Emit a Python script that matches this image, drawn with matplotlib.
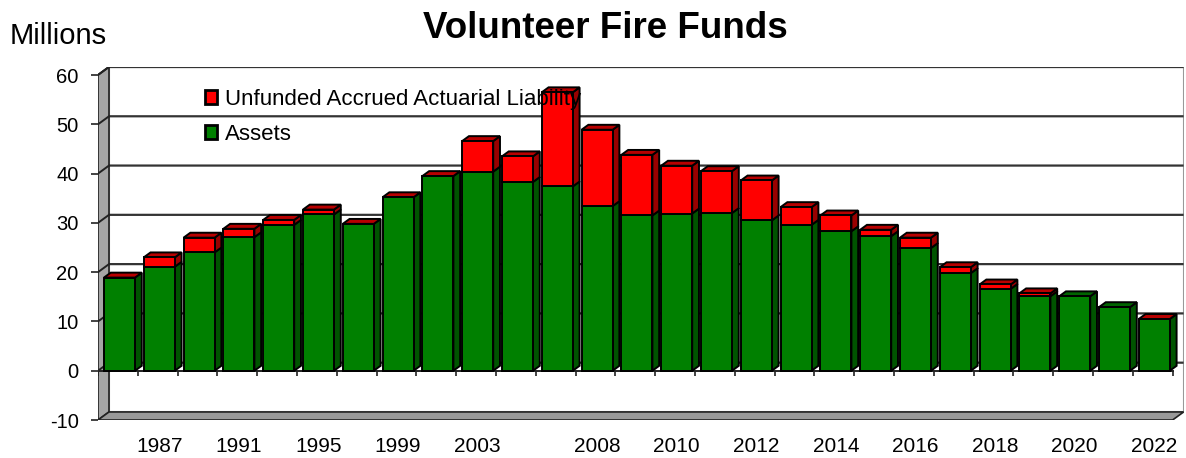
import numpy as np
import matplotlib
matplotlib.use("Agg")
import matplotlib.pyplot as plt
from matplotlib.patches import Polygon, Patch

plt.rcParams['font.family'] = ['Liberation Sans', 'DejaVu Sans']
plt.rcParams['axes.unicode_minus'] = False

# data (millions)
years = [1985, 1987, 1989, 1991, 1993, 1995, 1997, 1999, 2001, 2003, 2005, 2007,
         2008, 2009, 2010, 2011, 2012, 2013, 2014, 2015, 2016, 2017, 2018, 2019,
         2020, 2021, 2022]
assets = [18.9, 21.1, 24.0, 27.1, 29.6, 31.7, 29.8, 35.2, 39.5, 40.4, 38.3, 37.4,
          33.4, 31.5, 31.9, 32.0, 30.5, 29.6, 28.3, 27.3, 24.9, 19.8, 16.6, 15.1,
          15.1, 12.9, 10.5]
uaal = [0, 1.9, 3.0, 1.7, 1.0, 1.0, 0, 0, 0, 6.2, 5.2, 19.1,
        15.5, 12.3, 9.7, 8.5, 8.1, 3.6, 3.2, 1.3, 2.1, 1.2, 0.9, 0.6,
        np.nan, np.nan, 0]
shown_years = [1987, 1991, 1995, 1999, 2003, 2008, 2010, 2012, 2014, 2016,
               2018, 2020, 2022]
yticks = [-10, 0, 10, 20, 30, 40, 50, 60]

GREEN, GREEN_SIDE, GREEN_TOP = '#008000', '#005400', '#006400'
RED, RED_SIDE, RED_TOP = '#ff0000', '#990000', '#b80000'

n = len(years)
x = np.arange(n) + 0.04
ymin, ymax = -10, 60
dxw, dyw = 0.276, 1.63     # depth of the walls
dxb, dyb = 0.17, 1.0       # depth of the bars
bw = 0.78
elw = 1.4

fig = plt.figure(figsize=(11.86, 4.58), dpi=100)
ax = fig.add_axes([98 / 1186, 38 / 458, 1085.6 / 1186, 353 / 458])
ax.set_xlim(-0.5, n - 0.5 + dxw)
ax.set_ylim(ymin, ymax + dyw)
for s in ax.spines.values():
    s.set_visible(False)

xl, xr = -0.5, n - 0.5

# back wall
ax.add_patch(Polygon([(xl + dxw, ymin + dyw), (xr + dxw, ymin + dyw),
                      (xr + dxw, ymax + dyw), (xl + dxw, ymax + dyw)],
                     closed=True, facecolor='white', edgecolor='#999999', lw=1.5, zorder=0))
# gridlines on back and left walls
for v in yticks[1:]:
    ax.plot([xl, xl + dxw, xr + dxw], [v, v + dyw, v + dyw], color='#333333', lw=1.6, zorder=1,
            solid_capstyle='butt')
# left wall
ax.add_patch(Polygon([(xl, ymin), (xl + dxw, ymin + dyw), (xl + dxw, ymax + dyw), (xl, ymax)],
                     closed=True, facecolor='#a6a6a6', edgecolor='#222222', lw=1.2, zorder=1.5))
for v in yticks[1:]:
    ax.plot([xl, xl + dxw], [v, v + dyw], color='#222222', lw=1.4, zorder=1.6)
# floor
ax.add_patch(Polygon([(xl, ymin), (xr, ymin), (xr + dxw, ymin + dyw), (xl + dxw, ymin + dyw)],
                     closed=True, facecolor='#999999', edgecolor='#222222', lw=1.2, zorder=1.5))

# zero line and category ticks
ax.plot([xl, xr], [0, 0], color='#222222', lw=1.4, zorder=2)
ax.vlines(np.arange(n + 1) - 0.5, -1.1, 0, color='#222222', lw=1.2, zorder=2)


def box(x0, bottom, top, side, topc, with_top):
    # right side face, and the top face if this is the highest segment
    x1 = x0 + bw
    if top > bottom:
        ax.add_patch(Polygon([(x1, bottom), (x1 + dxb, bottom + dyb), (x1 + dxb, top + dyb), (x1, top)],
                             closed=True, facecolor=side, edgecolor='black', lw=elw, zorder=2.8))
    if with_top:
        ax.add_patch(Polygon([(x0, top), (x0 + dxb, top + dyb), (x1 + dxb, top + dyb), (x1, top)],
                             closed=True, facecolor=topc, edgecolor='black', lw=elw, zorder=2.8))


ax.bar(x, assets, width=bw, color=GREEN, edgecolor='black', lw=elw, zorder=3)
red_vals = np.nan_to_num(np.array(uaal, dtype=float))
ax.bar(x, red_vals, bottom=assets, width=bw, color=RED, edgecolor='black', lw=elw, zorder=3)
for i in range(n):
    x0 = x[i] - bw / 2
    has_red = not np.isnan(uaal[i])
    box(x0, 0, assets[i], GREEN_SIDE, GREEN_TOP, not has_red)
    if has_red:
        box(x0, assets[i], assets[i] + uaal[i], RED_SIDE, RED_TOP, True)

# axes ticks
ax.set_yticks(yticks)
ax.tick_params(axis='y', length=5, width=1.2, color='#222222', pad=9, labelsize=14.5)
pos = [years.index(y) + 0.04 for y in shown_years]
ax.set_xticks(pos)
ax.set_xticklabels([str(y) for y in shown_years])
ax.tick_params(axis='x', length=0, pad=12, labelsize=15)

handles = [Patch(facecolor=RED, edgecolor='black', lw=2),
           Patch(facecolor=GREEN, edgecolor='black', lw=2)]
leg = ax.legend(handles, ['Unfunded Accrued Actuarial Liability', 'Assets'],
                loc='upper left', bbox_to_anchor=(205 / 1186, 1 - 89 / 458),
                bbox_transform=fig.transFigure, frameon=False, fontsize=16,
                handlelength=0.55, handleheight=0.6, handletextpad=0.35,
                labelspacing=0.62, borderpad=0, borderaxespad=0)
leg.set_zorder(6)

fig.text(605 / 1186, 1 - 28 / 458, 'Volunteer Fire Funds', ha='center', va='center',
         fontsize=26.5, fontweight='bold')
fig.text(10 / 1186, 1 - 36 / 458, 'Millions', ha='left', va='center', fontsize=21)

fig.savefig('out.png', dpi=100)
